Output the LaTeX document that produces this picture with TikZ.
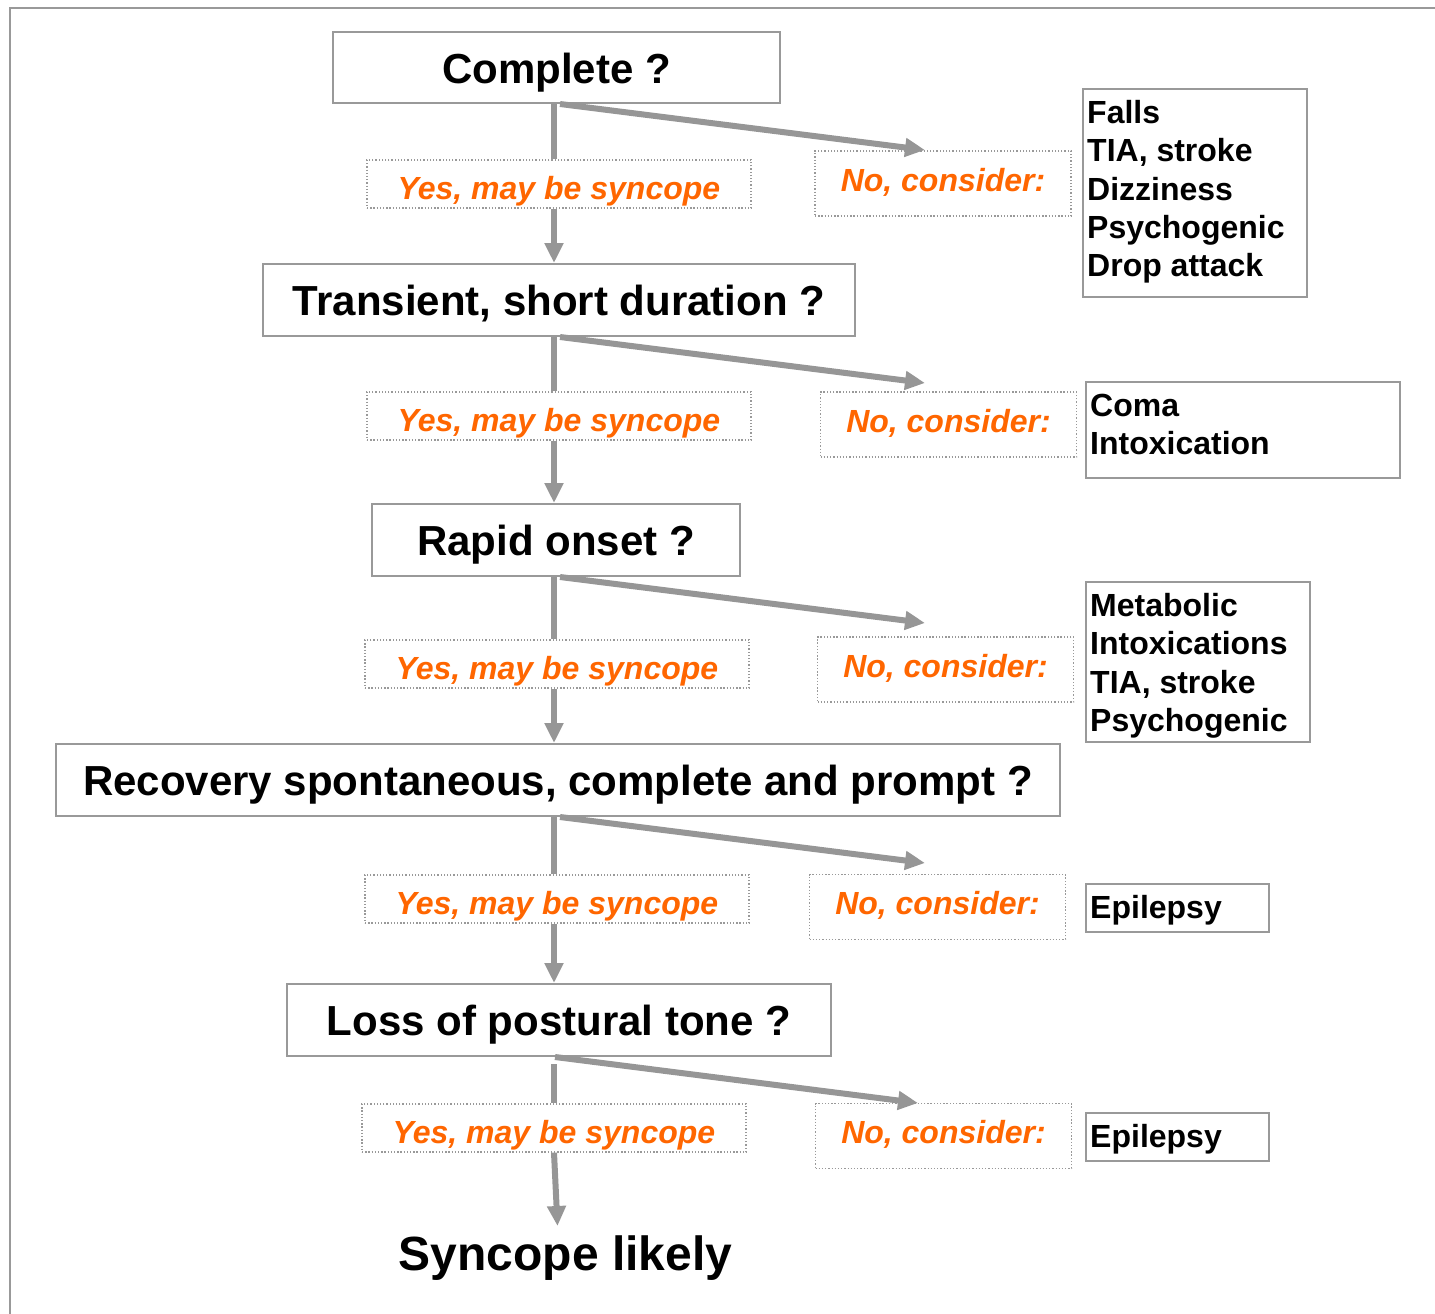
\documentclass[tikz,border=0pt]{standalone}
\usepackage{fontspec}
\setmainfont{Liberation Sans}
\usetikzlibrary{arrows.meta,calc}
\definecolor{lg}{RGB}{153,153,153}
\definecolor{ag}{RGB}{150,150,150}
\definecolor{org}{RGB}{255,102,0}
\begin{document}
\begin{tikzpicture}[x=1pt,y=-1pt,
  qbox/.style={draw=lg,line width=2pt,fill=white,inner sep=0pt,
    text height=31pt,text depth=0pt,
    font=\fontsize{42}{50}\selectfont\bfseries},
  yesbox/.style={draw=lg,line width=1.3pt,dash pattern=on 1.3pt off 1.9pt,fill=white,
    inner sep=0pt,minimum width=384pt,minimum height=48pt,text=org,
    text height=31pt,text depth=0pt,
    font=\fontsize{32}{38}\selectfont\bfseries\itshape},
  nobox/.style={yesbox,minimum width=256pt,minimum height=65pt,
    text height=22pt,text depth=7pt},
  lbox/.style={draw=lg,line width=2pt,fill=white,inner sep=0pt,anchor=north west},
  ltext/.style={inner sep=0pt,anchor=base west,
    font=\fontsize{32}{38.3}\selectfont\bfseries},
  vline/.style={draw=ag,line width=6pt},
  arr/.style={draw=ag,line width=6pt,-{Triangle[width=18pt,length=20pt]}}
]
\useasboundingbox (0,0) rectangle (1435,1314);
% frame
\draw[lg,line width=2.5pt] (10,1314) -- (10,8) -- (1435,8);

% question boxes
\node[qbox,minimum width=447pt,minimum height=71pt] (q1) at (556.5,67.5) {Complete ?};
\node[qbox,minimum width=592pt,minimum height=72pt] (q2) at (559,300) {Transient, short duration ?};
\node[qbox,minimum width=368pt,minimum height=72pt] (q3) at (556,540) {Rapid onset ?};
\node[qbox,minimum width=1004pt,minimum height=72pt] (q4) at (558,780) {Recovery spontaneous, complete and prompt ?};
\node[qbox,minimum width=544pt,minimum height=72pt] (q5) at (559,1020) {Loss of postural tone ?};
\node[inner sep=0pt,anchor=base,font=\fontsize{48}{56}\selectfont\bfseries] (end) at (565.5,1270) {Syncope likely};

% yes boxes
\node[yesbox] (y1) at (559,184) {Yes, may be syncope};
\node[yesbox] (y2) at (559,416) {Yes, may be syncope};
\node[yesbox] (y3) at (557,664) {Yes, may be syncope};
\node[yesbox] (y4) at (557,899) {Yes, may be syncope};
\node[yesbox] (y5) at (554,1128) {Yes, may be syncope};

% no boxes
\node[nobox] (n1) at (943,183.5) {No, consider:};
\node[nobox] (n2) at (948.5,424.5) {No, consider:};
\node[nobox] (n3) at (945.5,669.5) {No, consider:};
\node[nobox] (n4) at (937.5,907) {No, consider:};
\node[nobox] (n5) at (943.5,1136) {No, consider:};

% list boxes
\node[lbox,minimum width=224pt,minimum height=208pt] (l1) at (1082,88) {};
\node[ltext] (t1) at ($(l1.north west)+(5,35.5)$) {\parbox[t]{300pt}{Falls\\TIA, stroke\\Dizziness\\Psychogenic\\Drop attack}};
\node[lbox,minimum width=314pt,minimum height=96pt] (l2) at (1085,381) {};
\node[ltext] (t2) at ($(l2.north west)+(5,35.5)$) {\parbox[t]{300pt}{Coma\\Intoxication}};
\node[lbox,minimum width=224pt,minimum height=160pt] (l3) at (1085,581) {};
\node[ltext] (t3) at ($(l3.north west)+(5,35.5)$) {\parbox[t]{300pt}{Metabolic\\Intoxications\\TIA, stroke\\Psychogenic}};
\node[lbox,minimum width=183pt,minimum height=48pt] (l4) at (1085,883) {};
\node[ltext] (t4) at ($(l4.north west)+(5,35.5)$) {Epilepsy};
\node[lbox,minimum width=183pt,minimum height=48pt] (l5) at (1085,1112) {};
\node[ltext] (t5) at ($(l5.north west)+(5,35.5)$) {Epilepsy};

% vertical connectors
\coordinate (ax) at (554,0);
\draw[vline] (q1.south -| ax) -- (y1.north -| ax);
\draw[arr] (y1.south -| ax) -- (q2.north -| ax);
\draw[vline] (q2.south -| ax) -- (y2.north -| ax);
\draw[arr] (y2.south -| ax) -- (q3.north -| ax);
\draw[vline] (q3.south -| ax) -- (y3.north -| ax);
\draw[arr] (y3.south -| ax) -- (q4.north -| ax);
\draw[vline] (q4.south -| ax) -- (y4.north -| ax);
\draw[arr] (y4.south -| ax) -- (q5.north -| ax);
\coordinate (s5) at (554,1064);
\coordinate (e5) at (557.5,1226);
\draw[vline] (s5) -- (y5.north -| s5);
\draw[arr] (y5.south -| s5) -- (e5);

% diagonal connectors
\coordinate (dx) at (560,0);
\coordinate (tx) at (925,0);
\draw[arr] (q1.south -| dx) -- ($(q1.south -| tx)+(0,46)$);
\draw[arr] (q2.south -| dx) -- ($(q2.south -| tx)+(0,46)$);
\draw[arr] (q3.south -| dx) -- ($(q3.south -| tx)+(0,46)$);
\draw[arr] (q4.south -| dx) -- ($(q4.south -| tx)+(0,46)$);
\coordinate (dx5) at (555,0);
\coordinate (tx5) at (918,0);
\draw[arr] (q5.south -| dx5) -- ($(q5.south -| tx5)+(0,46)$);
\end{tikzpicture}
\end{document}
